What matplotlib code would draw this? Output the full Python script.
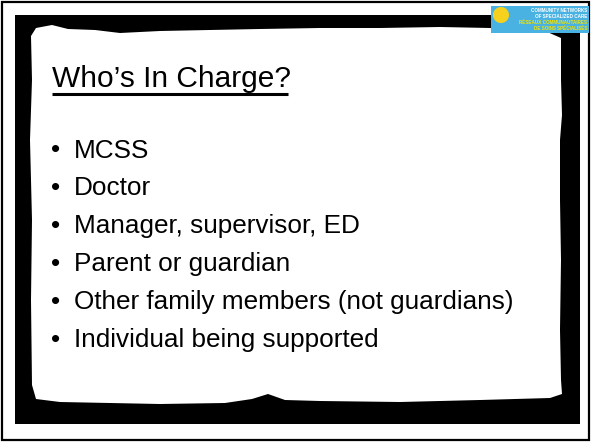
import matplotlib.pyplot as plt
from matplotlib.patches import Rectangle, Polygon, Wedge

# slide content
title = "Who\u2019s In Charge?"
bullets = [
    "MCSS",
    "Doctor",
    "Manager, supervisor, ED",
    "Parent or guardian",
    "Other family members (not guardians)",
    "Individual being supported",
]
logo_lines = ["COMMUNITY NETWORKS", "OF SPECIALIZED CARE",
              "R\u00c9SEAUX COMMUNAUTAIRES", "DE SOINS SP\u00c9CIALIS\u00c9S"]
logo_colors = ["white", "white", "#f4e300", "#f4e300"]

plt.rcParams['font.family'] = ['Liberation Sans', 'DejaVu Sans']

W, H = 591, 442
fig = plt.figure(figsize=(W / 100, H / 100), dpi=100)
ax = fig.add_axes([0, 0, 1, 1])
ax.set_xlim(0, W)
ax.set_ylim(H, 0)
ax.axis("off")

# outer thin frame
ax.add_patch(Rectangle((1.5, 1.5), W - 4, H - 4, fill=False, ec="black", lw=1.6))

# black grunge frame
ax.add_patch(Rectangle((15, 15), 565, 409, fc="black", ec="none"))

# ragged white paper
paper = [(31, 36), (36, 28), (52, 25), (68, 29), (95, 30), (120, 33), (160, 31),
         (210, 30), (260, 29), (320, 28), (380, 28), (440, 27), (490, 28),
         (545, 31), (561, 38), (561, 80), (562, 115), (560, 140), (560, 200),
         (561, 260), (560, 330), (561, 380), (562, 394), (550, 398),
         (480, 400), (400, 402), (320, 401), (285, 400), (268, 394),
         (252, 399), (225, 403), (160, 404), (110, 403), (60, 402),
         (36, 399), (32, 385), (31, 300), (32, 220), (30, 140), (32, 80)]
ax.add_patch(Polygon(paper, closed=True, fc="white", ec="none"))

# title with underline
ax.text(52, 87, title, fontsize=21.5, color="black", va="baseline", ha="left")
ax.plot([52, 288], [93.5, 93.5], color="black", lw=2.2, solid_capstyle="butt")

# bullet list
y0, step = 157.5, 37.8
for i, item in enumerate(bullets):
    y = y0 + i * step
    ax.text(51, y, "\u2022", fontsize=18.8, va="baseline", ha="left")
    ax.text(74, y, item, fontsize=18.8, va="baseline", ha="left")

# logo in the top-right corner
ax.add_patch(Rectangle((491, 6), 98, 27, fc="#49b2e2", ec="none"))
ax.add_patch(Wedge((501, 15), 8, 0, 360, fc="#f6d21e", ec="none"))
ax.add_patch(Wedge((501, 31), 13, 40, 140, width=2, fc="white", ec="none"))
ax.add_patch(Wedge((501, 35), 13, 45, 135, width=2, fc="white", ec="none"))
for i, (line, c) in enumerate(zip(logo_lines, logo_colors)):
    ax.text(587, 10.5 + i * 6, line, fontsize=3.3, color=c, ha="right",
            va="center", fontweight="bold")

fig.savefig("out.png", dpi=100)
